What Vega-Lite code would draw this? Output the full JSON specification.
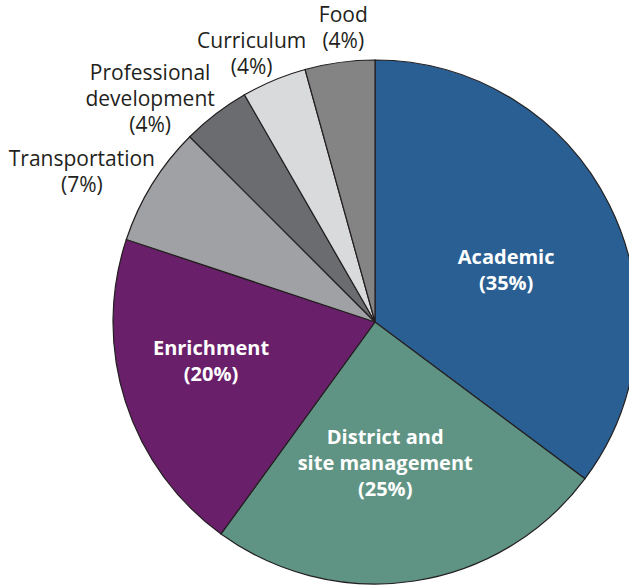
{
  "$schema": "https://vega.github.io/schema/vega-lite/v6.json",
  "autosize": {"type": "none"},
  "width": 508,
  "height": 526,
  "padding": {"left": 121, "top": 59, "right": 0, "bottom": 0},
  "background": "white",
  "config": {"view": {"stroke": null}, "text": {"lineBreak": "\n"}},
  "data": {
    "values": [
      {"order": 1, "category": "Academic", "share": 35.2, "label": "Academic\n(35%)"},
      {"order": 2, "category": "District and site management", "share": 24.8, "label": "District and\nsite management\n(25%)"},
      {"order": 3, "category": "Enrichment", "share": 20.1, "label": "Enrichment\n(20%)"},
      {"order": 4, "category": "Transportation", "share": 7.4, "label": "Transportation\n(7%)"},
      {"order": 5, "category": "Professional development", "share": 4.2, "label": "Professional\ndevelopment\n(4%)"},
      {"order": 6, "category": "Curriculum", "share": 4.0, "label": "Curriculum\n(4%)"},
      {"order": 7, "category": "Food", "share": 4.3, "label": "Food\n(4%)"}
    ]
  },
  "encoding": {
    "theta": {"field": "share", "type": "quantitative", "stack": true},
    "order": {"field": "order", "type": "quantitative"}
  },
  "layer": [
    {
      "mark": {"type": "arc", "outerRadius": 262, "stroke": "#231f20", "strokeWidth": 1.2},
      "encoding": {
        "color": {
          "field": "category",
          "type": "nominal",
          "scale": {
            "domain": ["Academic", "District and site management", "Enrichment", "Transportation", "Professional development", "Curriculum", "Food"],
            "range": ["#2a5f93", "#5f9484", "#6a1f6a", "#a0a1a4", "#6b6c70", "#d9dadc", "#848484"]
          },
          "legend": null
        }
      }
    },
    {
      "mark": {"type": "text", "radius": 140, "dx": 6, "dy": -1, "font": "Open Sans", "fontSize": 20, "fontWeight": "bold", "fill": "white", "lineHeight": 26, "lineBreak": "\n", "align": "center", "baseline": "middle"},
      "encoding": {"text": {"condition": {"test": "datum.category === 'Academic'", "field": "label"}, "value": ""}}
    },
    {
      "mark": {"type": "text", "radius": 141, "dx": -11, "dy": -23, "font": "Open Sans", "fontSize": 20, "fontWeight": "bold", "fill": "white", "lineHeight": 26, "lineBreak": "\n", "align": "center", "baseline": "middle"},
      "encoding": {"text": {"condition": {"test": "datum.category === 'District and site management'", "field": "label"}, "value": ""}}
    },
    {
      "mark": {"type": "text", "radius": 168, "dx": -4, "dy": -24, "font": "Open Sans", "fontSize": 20, "fontWeight": "bold", "fill": "white", "lineHeight": 26, "lineBreak": "\n", "align": "center", "baseline": "middle"},
      "encoding": {"text": {"condition": {"test": "datum.category === 'Enrichment'", "field": "label"}, "value": ""}}
    },
    {
      "mark": {"type": "text", "radius": 328, "dx": -14, "dy": 10, "font": "Open Sans", "fontSize": 21, "fill": "#231f20", "lineHeight": 26, "lineBreak": "\n", "align": "center", "baseline": "middle"},
      "encoding": {"text": {"condition": {"test": "datum.category === 'Transportation'", "field": "label"}, "value": ""}}
    },
    {
      "mark": {"type": "text", "radius": 314, "dx": -34, "dy": 1, "font": "Open Sans", "fontSize": 21, "fill": "#231f20", "lineHeight": 26, "lineBreak": "\n", "align": "center", "baseline": "middle"},
      "encoding": {"text": {"condition": {"test": "datum.category === 'Professional development'", "field": "label"}, "value": ""}}
    },
    {
      "mark": {"type": "text", "radius": 294, "dx": -10, "dy": -9, "font": "Open Sans", "fontSize": 21, "fill": "#231f20", "lineHeight": 26, "lineBreak": "\n", "align": "center", "baseline": "middle"},
      "encoding": {"text": {"condition": {"test": "datum.category === 'Curriculum'", "field": "label"}, "value": ""}}
    },
    {
      "mark": {"type": "text", "radius": 295, "dx": 8, "dy": -14, "font": "Open Sans", "fontSize": 21, "fill": "#231f20", "lineHeight": 26, "lineBreak": "\n", "align": "center", "baseline": "middle"},
      "encoding": {"text": {"condition": {"test": "datum.category === 'Food'", "field": "label"}, "value": ""}}
    }
  ]
}
